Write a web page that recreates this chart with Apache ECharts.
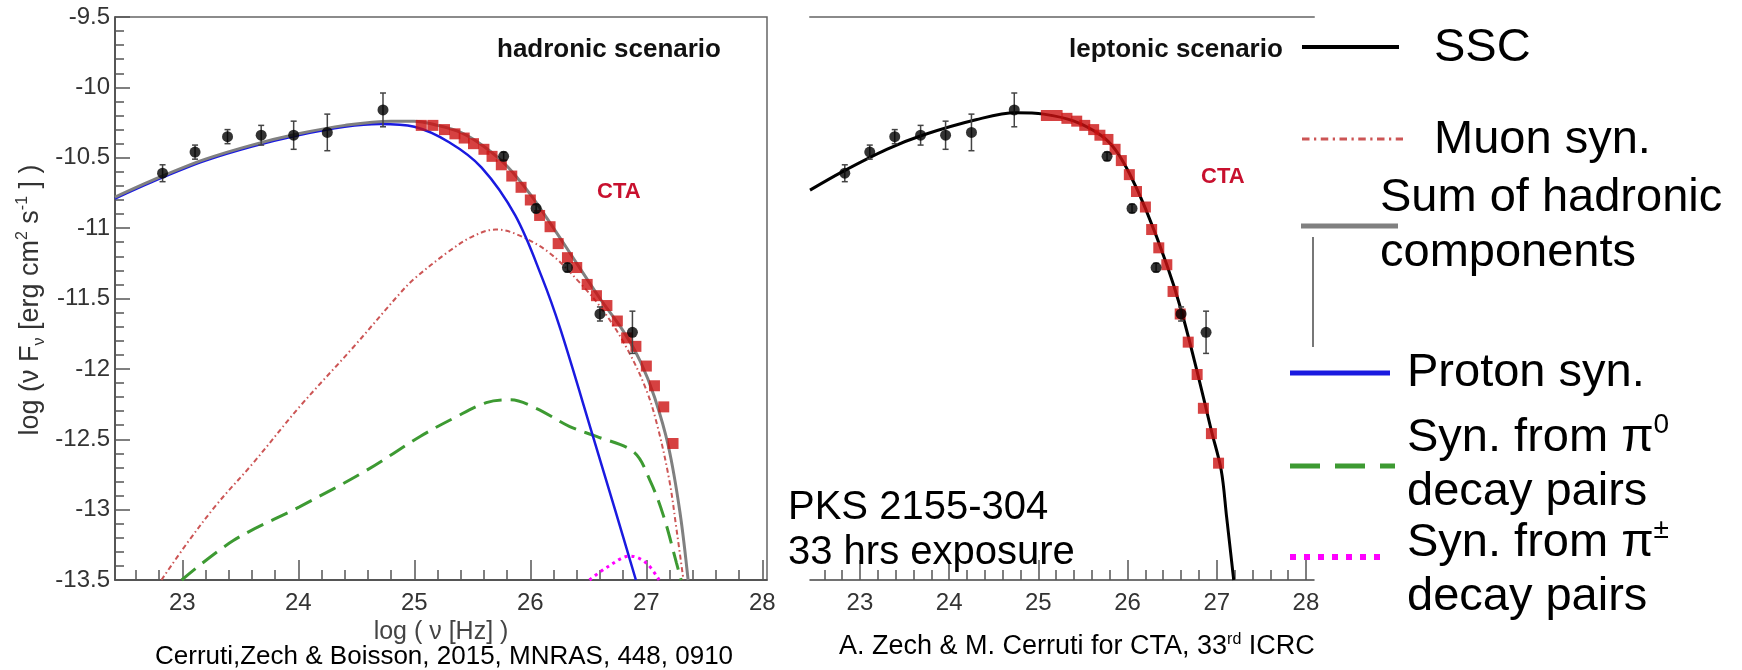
<!DOCTYPE html>
<html>
<head>
<meta charset="utf-8">
<script src="https://cdn.jsdelivr.net/npm/echarts@6/dist/echarts.min.js"></script>
<style>
  html, body { margin: 0; padding: 0; background: #fff; }
  #chart { width: 1742px; height: 670px; }
</style>
</head>
<body>
<div id="chart"></div>
<script>
// axis ticks
const xMajor = [23, 24, 25, 26, 27, 28];
const xMinor = [22.6, 22.8, 23.2, 23.4, 23.6, 23.8, 24.2, 24.4, 24.6, 24.8, 25.2, 25.4, 25.6, 25.8,
  26.2, 26.4, 26.6, 26.8, 27.2, 27.4, 27.6, 27.8];

// Fermi points (same in both panels)
const fermiX = [22.83, 23.11, 23.39, 23.68, 23.96, 24.25, 24.73];
const fermiY = [-10.61, -10.46, -10.35, -10.34, -10.34, -10.32, -10.16];
const fermiErr = [0.06, 0.05, 0.05, 0.07, 0.10, 0.13, 0.12];

// H.E.S.S. points
const hessX = [25.77, 26.05, 26.32, 26.60, 26.88];
const hessY = [-10.49, -10.86, -11.28, -11.61, -11.74];
const hessErr = [0.03, 0.03, 0.03, 0.05, 0.15];

// simulated CTA points, hadronic panel
const ctaHadX = [25.06, 25.16, 25.26, 25.35, 25.43, 25.51, 25.60, 25.67, 25.75, 25.84, 25.92, 26.00, 26.08,
  26.17, 26.24, 26.32, 26.40, 26.49, 26.57, 26.66, 26.75, 26.83, 26.91, 27.00, 27.07, 27.15, 27.23];
const ctaHadY = [-10.27, -10.27, -10.30, -10.33, -10.36, -10.40, -10.44, -10.49, -10.55, -10.63, -10.71, -10.80, -10.91,
  -10.99, -11.11, -11.21, -11.28, -11.40, -11.48, -11.55, -11.66, -11.78, -11.84, -11.98, -12.12, -12.27, -12.53];

// simulated CTA points, leptonic panel
const ctaLepX = [25.09, 25.21, 25.32, 25.43, 25.52, 25.62, 25.69, 25.78, 25.86, 25.93, 26.02, 26.10,
  26.20, 26.27, 26.35, 26.44, 26.51, 26.59, 26.68, 26.78, 26.85, 26.94, 27.02];
const ctaLepY = [-10.20, -10.20, -10.22, -10.24, -10.27, -10.30, -10.34, -10.37, -10.44, -10.52, -10.62, -10.74,
  -10.85, -11.01, -11.14, -11.26, -11.45, -11.61, -11.81, -12.04, -12.28, -12.46, -12.67];

// model curves [log nu, log nuFnu]
const sumCurve = [[22.42, -10.78], [22.8, -10.64], [23.2, -10.51], [23.6, -10.41], [24.0, -10.33], [24.4, -10.27],
  [24.8, -10.24], [25.0, -10.24], [25.2, -10.27], [25.4, -10.32], [25.6, -10.42], [25.8, -10.56], [26.0, -10.76],
  [26.2, -11.0], [26.4, -11.25], [26.6, -11.5], [26.8, -11.73], [26.95, -11.95], [27.07, -12.2], [27.19, -12.55],
  [27.29, -13.02], [27.36, -13.5]];
const protonCurve = [[22.42, -10.79], [22.8, -10.65], [23.2, -10.52], [23.6, -10.42], [24.0, -10.34], [24.4, -10.28],
  [24.7, -10.26], [25.0, -10.28], [25.3, -10.39], [25.58, -10.57], [25.87, -10.91], [26.1, -11.35], [26.26, -11.72],
  [26.54, -12.48], [26.73, -13.0], [26.91, -13.5]];
const muonCurve = [[22.82, -13.5], [23.04, -13.24], [23.30, -12.96], [23.61, -12.67], [24.01, -12.27], [24.47, -11.85],
  [24.88, -11.46], [25.0, -11.36], [25.29, -11.17], [25.5, -11.06], [25.70, -11.01], [25.87, -11.04], [26.155, -11.17],
  [26.44, -11.40], [26.64, -11.60], [26.83, -11.85], [27.0, -12.15], [27.1, -12.42], [27.2, -12.8], [27.26, -13.14],
  [27.32, -13.5]];
const pi0Curve = [[22.995, -13.5], [23.44, -13.22], [24.01, -12.98], [24.59, -12.72], [25.05, -12.48], [25.34, -12.35],
  [25.62, -12.24], [25.825, -12.22], [26.05, -12.28], [26.34, -12.41], [26.57, -12.48], [26.89, -12.59], [27.03, -12.79],
  [27.15, -13.05], [27.26, -13.38], [27.30, -13.5]];
const piChargedCurve = [[26.51, -13.5], [26.66, -13.41], [26.86, -13.33], [27.0, -13.38], [27.11, -13.5]];
const sscCurve = [[22.44, -10.73], [22.8, -10.60], [23.3, -10.44], [23.7, -10.34], [24.3, -10.23], [24.75, -10.18],
  [25.06, -10.19], [25.4, -10.24], [25.7, -10.34], [25.86, -10.44], [26.02, -10.61], [26.2, -10.86], [26.44, -11.26],
  [26.6, -11.58], [26.78, -12.02], [26.94, -12.44], [27.05, -12.72], [27.11, -13.05], [27.19, -13.5]];

const FONT = '"Liberation Sans", Arial, Helvetica, sans-serif';

const styles = {
  sum: { color: '#808080', width: 3, type: 'solid' },
  proton: { color: '#1a1ae0', width: 2.5, type: 'solid' },
  muon: { color: '#cc5555', width: 2, type: [5, 3, 1.5, 3] },
  pi0: { color: '#3d9a32', width: 3, type: [18, 9] },
  piCharged: { color: '#ff00ff', width: 3, type: [3, 4] },
  ssc: { color: '#000000', width: 3, type: 'solid' }
};

const chart = echarts.init(document.getElementById('chart'));

function zip(xs, ys) { return xs.map((x, i) => [x, ys[i]]); }
function zip3(xs, ys, es) { return xs.map((x, i) => [x, ys[i], es[i]]); }

function lineSeries(name, data, st, xi, yi, z) {
  return {
    name, type: 'line', data, xAxisIndex: xi, yAxisIndex: yi, z,
    smooth: 0.35, symbol: 'none', clip: true,
    lineStyle: { color: st.color, width: st.width, type: st.type }
  };
}

function errorSeries(data, xi, yi) {
  return {
    type: 'custom', xAxisIndex: xi, yAxisIndex: yi, z: 6,
    data, encode: { x: 0, y: 1 },
    renderItem: function (params, api) {
      const x = api.value(0), y = api.value(1), e = api.value(2);
      const top = api.coord([x, y + e]);
      const bot = api.coord([x, y - e]);
      const st = { stroke: '#444', lineWidth: 1.5 };
      return {
        type: 'group', children: [
          { type: 'line', shape: { x1: top[0], y1: top[1], x2: bot[0], y2: bot[1] }, style: st },
          { type: 'line', shape: { x1: top[0] - 3, y1: top[1], x2: top[0] + 3, y2: top[1] }, style: st },
          { type: 'line', shape: { x1: bot[0] - 3, y1: bot[1], x2: bot[0] + 3, y2: bot[1] }, style: st }
        ]
      };
    }
  };
}

function pointSeries(name, data, xi, yi, color, symbol, size, z) {
  return {
    name, type: 'scatter', data, xAxisIndex: xi, yAxisIndex: yi, z,
    symbol, symbolSize: size, itemStyle: { color }
  };
}

const tickLabel = { fontSize: 24, color: '#333', fontFamily: FONT };

function majorX(grid, min, max, extra) {
  return Object.assign({
    gridIndex: grid, type: 'value', min, max, position: 'bottom',
    axisLine: { show: true, lineStyle: { color: '#444', width: 1.5 } },
    axisTick: { show: true, inside: true, length: 20, customValues: xMajor, lineStyle: { color: '#555', width: 1.5 } },
    axisLabel: Object.assign({ customValues: xMajor, margin: 11 }, tickLabel),
    splitLine: { show: false }
  }, extra || {});
}
function minorX(grid, min, max) {
  return {
    gridIndex: grid, type: 'value', min, max, position: 'bottom',
    axisLine: { show: false },
    axisTick: { show: true, inside: true, length: 10, customValues: xMinor, lineStyle: { color: '#555', width: 1.5 } },
    axisLabel: { show: false },
    splitLine: { show: false }
  };
}

const option = {
  backgroundColor: '#fff',
  animation: false,
  grid: [
    { left: 115, top: 17, width: 652, height: 563, show: true, borderColor: '#666', borderWidth: 1.5 },
    { left: 810, top: 17, width: 504, height: 563 }
  ],
  xAxis: [
    majorX(0, 22.42, 28.04, {
      name: 'log ( ν [Hz] )', nameLocation: 'middle', nameGap: 35,
      nameTextStyle: { fontSize: 25, color: '#444', fontFamily: FONT }
    }),
    minorX(0, 22.42, 28.04),
    majorX(1, 22.44, 28.09),
    minorX(1, 22.44, 28.09),
    {
      gridIndex: 1, type: 'value', min: 22.44, max: 28.09, position: 'top',
      axisLine: { show: true, lineStyle: { color: '#8a8a8a', width: 2 } },
      axisTick: { show: false }, axisLabel: { show: false }, splitLine: { show: false }
    }
  ],
  yAxis: [
    {
      gridIndex: 0, type: 'value', min: -13.5, max: -9.5, interval: 0.5,
      axisLine: { show: true, lineStyle: { color: '#444', width: 1.5 } },
      axisTick: { show: true, inside: true, length: 15, lineStyle: { color: '#555', width: 1.5 } },
      minorTick: { show: true, splitNumber: 5, length: 9, lineStyle: { color: '#555', width: 1.5 } },
      axisLabel: Object.assign({ margin: 5 }, tickLabel),
      splitLine: { show: false }
    },
    { gridIndex: 1, type: 'value', min: -13.5, max: -9.5, show: false }
  ],
  series: [
    lineSeries('Muon syn.', muonCurve, styles.muon, 0, 0, 2),
    lineSeries('Syn. from π0 decay pairs', pi0Curve, styles.pi0, 0, 0, 2),
    lineSeries('Syn. from π± decay pairs', piChargedCurve, styles.piCharged, 0, 0, 2),
    lineSeries('Proton syn.', protonCurve, styles.proton, 0, 0, 3),
    lineSeries('Sum of hadronic components', sumCurve, styles.sum, 0, 0, 4),
    pointSeries('CTA', zip(ctaHadX, ctaHadY), 0, 0, '#cc1111', 'rect', 11, 5),
    errorSeries(zip3(fermiX, fermiY, fermiErr), 0, 0),
    errorSeries(zip3(hessX, hessY, hessErr), 0, 0),
    pointSeries('Fermi', zip(fermiX, fermiY), 0, 0, '#000', 'circle', 11, 7),
    pointSeries('HESS', zip(hessX, hessY), 0, 0, '#000', 'circle', 11, 7),

    lineSeries('SSC', sscCurve, styles.ssc, 2, 1, 4),
    pointSeries('CTA', zip(ctaLepX, ctaLepY), 2, 1, '#cc1111', 'rect', 11, 5),
    errorSeries(zip3(fermiX, fermiY, fermiErr), 2, 1),
    errorSeries(zip3(hessX, hessY, hessErr), 2, 1),
    pointSeries('Fermi', zip(fermiX, fermiY), 2, 1, '#000', 'circle', 11, 7),
    pointSeries('HESS', zip(hessX, hessY), 2, 1, '#000', 'circle', 11, 7)
  ],
  graphic: []
};

function text(x, y, str, size, extra) {
  return {
    type: 'text', x, y, z: 100,
    style: Object.assign({
      text: str, fontSize: size, fontFamily: FONT, fill: '#000',
      align: 'left', verticalAlign: 'middle'
    }, extra || {})
  };
}
function legendLine(x1, x2, y, st, w) {
  return {
    type: 'line', z: 100,
    shape: { x1, y1: y, x2, y2: y },
    style: { stroke: st.color, lineWidth: w, lineDash: st.type === 'solid' ? null : st.type.map(v => v * w / st.width) }
  };
}
const supRich = { sup: { fontSize: 28, fontFamily: FONT, fill: '#000', verticalAlign: 'top', lineHeight: 54 } };

// y axis title, centred on the left plot
const yTitle = text(31, 300, 'log (ν F{sub|ν} [erg cm{sup|2} s{sup|-1} ] )', 27, {
  align: 'center', fill: '#333', lineHeight: 33,
  rich: {
    sub: { fontSize: 16, fill: '#333', fontFamily: FONT, verticalAlign: 'bottom', lineHeight: 33 },
    sup: { fontSize: 16, fill: '#333', fontFamily: FONT, verticalAlign: 'top', lineHeight: 33 }
  }
});
yTitle.rotation = Math.PI / 2;

option.graphic = [
  yTitle,
  text(497, 50, 'hadronic scenario', 26, { fontWeight: 'bold', fill: '#111' }),
  text(1069, 50, 'leptonic scenario', 26, { fontWeight: 'bold', fill: '#111' }),
  text(597, 192, 'CTA', 22, { fontWeight: 'bold', fill: '#c8102e' }),
  text(1201, 177, 'CTA', 22, { fontWeight: 'bold', fill: '#c8102e' }),
  text(788, 508, 'PKS 2155-304', 40),
  text(788, 553, '33 hrs exposure', 40),
  text(155, 657, 'Cerruti,Zech & Boisson, 2015, MNRAS, 448, 0910', 26),
  text(839, 647, 'A. Zech & M. Cerruti for CTA, 33{sup|rd} ICRC', 27, {
    rich: { sup: { fontSize: 16, fontFamily: FONT, fill: '#000', verticalAlign: 'top', lineHeight: 30 } },
    lineHeight: 30
  }),
  // legend
  legendLine(1302, 1399, 47, styles.ssc, 4),
  text(1434, 48, 'SSC', 47),
  legendLine(1302, 1403, 139, styles.muon, 3),
  text(1434, 140, 'Muon syn.', 47),
  legendLine(1301, 1398, 226, styles.sum, 5),
  text(1380, 226, 'Sum of hadronic\ncomponents', 47, { lineHeight: 55 }),
  { type: 'line', z: 100, shape: { x1: 1313, y1: 237, x2: 1313, y2: 347 }, style: { stroke: '#777', lineWidth: 2 } },
  legendLine(1290, 1390, 373, styles.proton, 5),
  text(1407, 373, 'Proton syn.', 47),
  legendLine(1290, 1395, 466, styles.pi0, 5),
  text(1407, 465, 'Syn. from π{sup|0}\ndecay pairs', 47, { lineHeight: 54, rich: supRich }),
  legendLine(1290, 1386, 557, styles.piCharged, 6),
  text(1407, 570, 'Syn. from π{sup|±}\ndecay pairs', 47, { lineHeight: 54, rich: supRich })
];

chart.setOption(option);
</script>
</body>
</html>
